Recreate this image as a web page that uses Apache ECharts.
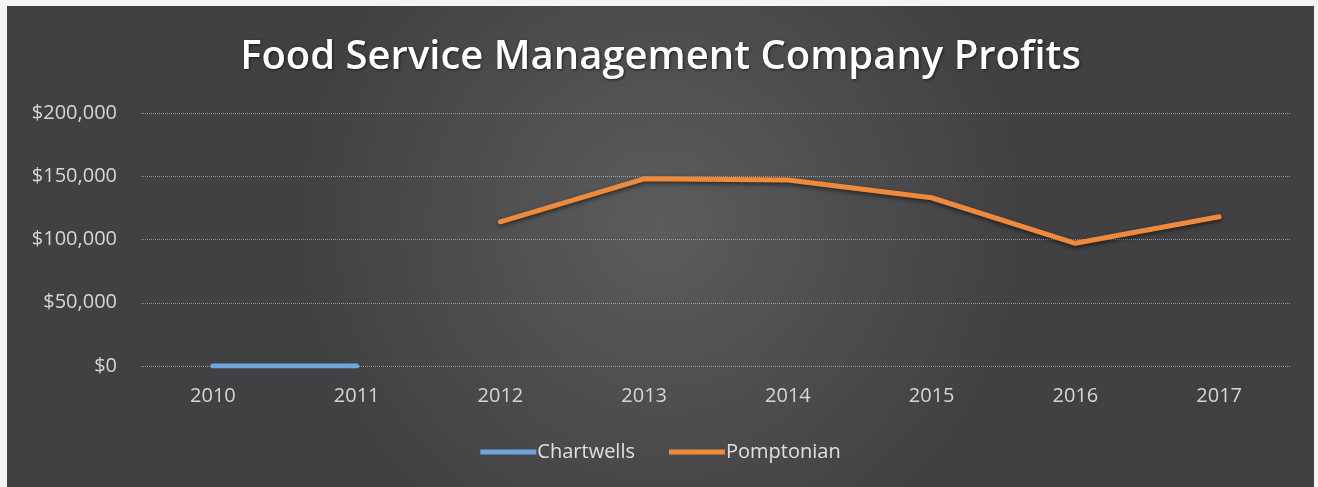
<!DOCTYPE html>
<html>
<head>
<meta charset="utf-8">
<script src="https://cdn.jsdelivr.net/npm/echarts@6/dist/echarts.min.js"></script>
<style>
  html, body { margin: 0; padding: 0; background: #f4f4f4; }
  #chart { position: absolute; left: 7px; top: 6px; width: 1307px; height: 481px; }
</style>
</head>
<body>
<div id="chart"></div>
<script>
const years = ['2010', '2011', '2012', '2013', '2014', '2015', '2016', '2017']
const chartwells = [0, 0, null, null, null, null, null, null]
const pomptonian = [null, null, 114000, 148000, 147000, 133000, 97000, 118000]

const chart = echarts.init(document.getElementById('chart'))

const option = {
  backgroundColor: new echarts.graphic.RadialGradient(0.5, 0.45, 0.75, [
    { offset: 0, color: '#5c5c5e' },
    { offset: 1, color: '#414143' }
  ]),
  title: {
    text: 'Food Service Management Company Profits',
    left: 'center',
    top: 27,
    textStyle: {
      color: '#ffffff',
      fontFamily: 'Open Sans',
      fontSize: 40,
      fontWeight: 600,
      textShadowColor: 'rgba(0,0,0,0.6)',
      textShadowBlur: 3,
      textShadowOffsetX: 1,
      textShadowOffsetY: 1
    }
  },
  legend: {
    bottom: 20,
    left: 'center',
    itemWidth: 56,
    itemHeight: 5,
    itemGap: 34,
    icon: 'rect',
    textStyle: { color: '#e0e0e0', fontSize: 20, fontFamily: 'Open Sans', padding: [0, 0, 0, -4] },
    data: ['Chartwells', 'Pomptonian']
  },
  grid: { left: 134, right: 23, top: 107, bottom: 121 },
  xAxis: {
    type: 'category',
    data: years,
    boundaryGap: true,
    axisLine: { show: false },
    axisTick: { show: false },
    axisLabel: { color: '#d6d6d6', fontSize: 20, fontFamily: 'Open Sans', margin: 20 }
  },
  yAxis: {
    type: 'value',
    min: 0,
    max: 200000,
    interval: 50000,
    axisLine: { show: false },
    axisTick: { show: false },
    axisLabel: {
      color: '#d6d6d6',
      fontSize: 20,
      fontFamily: 'Open Sans',
      margin: 24,
      formatter: (v) => '$' + v.toLocaleString('en-US')
    },
    splitLine: { lineStyle: { color: 'rgba(220,220,220,0.55)', type: 'dotted', width: 1 } }
  },
  series: [
    {
      name: 'Chartwells',
      type: 'line',
      data: chartwells,
      symbol: 'none',
      lineStyle: { color: '#6fa6dc', width: 5, cap: 'round' },
      itemStyle: { color: '#6fa6dc' }
    },
    {
      name: 'Pomptonian',
      type: 'line',
      data: pomptonian,
      symbol: 'none',
      lineStyle: {
        color: '#ef8a3c', width: 5, cap: 'round', join: 'round',
        shadowColor: 'rgba(0,0,0,0.55)', shadowBlur: 4, shadowOffsetY: 2
      },
      itemStyle: { color: '#ef8a3c' }
    }
  ]
}

chart.setOption(option)
window.addEventListener('resize', () => chart.resize())
</script>
</body>
</html>
